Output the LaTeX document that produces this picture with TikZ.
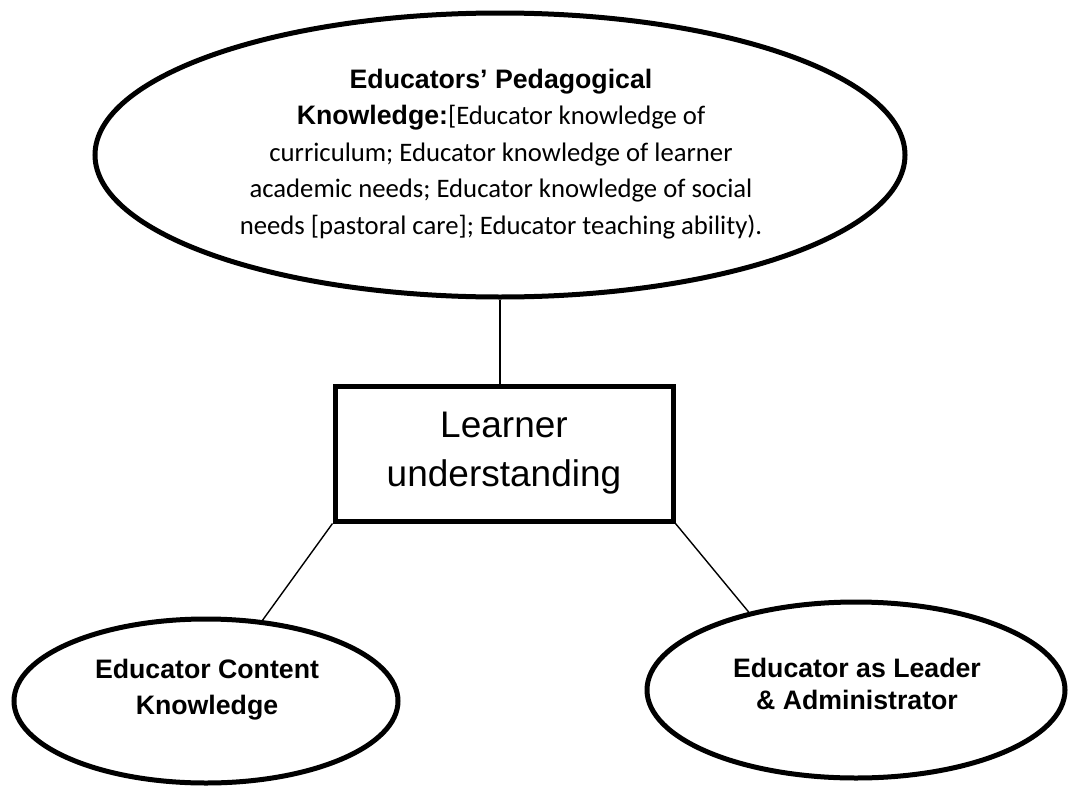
\documentclass[tikz,border=0pt]{standalone}
\usepackage{fontspec}
\setmainfont{Liberation Sans}
\newfontfamily\calib{Carlito}
\usetikzlibrary{shapes.geometric}
\begin{document}
\begin{tikzpicture}[x=1pt,y=-1pt,
  oval/.style={ellipse, draw, line width=5pt, inner sep=0pt},
  conn/.style={line width=1.4pt},
  lbl/.style={align=center, inner sep=0pt, font=\bfseries\fontsize{26.7}{36}\selectfont},
  boxnode/.style={draw, line width=5pt, inner sep=0pt, align=center, font=\fontsize{37}{49}\selectfont}]
\useasboundingbox (0,0) rectangle (1068,787);
\fill[white] (0,0) rectangle (1068,787);
% top ellipse
\node[oval, minimum width=810pt, minimum height=284pt] (ped) at (500,155) {};
\node[align=center, inner sep=0pt, font=\calib\fontsize{26.7}{36.5}\selectfont] (pedt) at (501,154)
  {{\rmfamily\bfseries Educators’ Pedagogical}\\
   {\rmfamily\bfseries Knowledge:}[Educator knowledge of\\
   curriculum; Educator knowledge of learner\\
   academic needs; Educator knowledge of social\\
   needs [pastoral care]; Educator teaching ability).};
% central box
\node[boxnode, minimum width=338pt, minimum height=135pt] (box) at (504,453.5) {Learner\\understanding};
% bottom ellipses
\node[oval, minimum width=384pt, minimum height=164pt] (lft) at (206,701) {};
\node[lbl] (lftt) at (207,690) {Educator Content\\Knowledge};
\node[oval, minimum width=418pt, minimum height=176pt] (rgt) at (856,690) {};
\node[lbl, font=\bfseries\fontsize{26.7}{32}\selectfont] (rgtt) at (857,684) {Educator as Leader\\\& Administrator};
% connectors
\draw[conn] (ped.south) -- (ped.south |- box.north);
\draw[conn] (box.south west) -- (lft.55);
\draw[conn] (box.south east) -- (rgt.144);
\end{tikzpicture}
\end{document}
